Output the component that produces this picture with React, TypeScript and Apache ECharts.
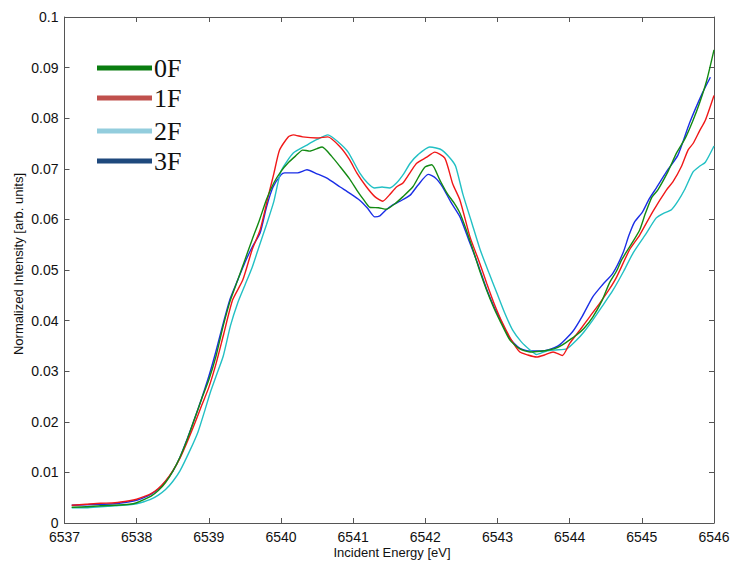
import React, { useEffect, useRef } from "react";
import * as echarts from "echarts";

const seriesNames = ["0F", "1F", "2F", "3F"];
const lineColors = ["#138a13", "#f01818", "#22c0c4", "#1a2ee6"];
const legendColors = ["#0a7d10", "#c0504d", "#93cddd", "#1f497d"];

const xTicks = [6537, 6538, 6539, 6540, 6541, 6542, 6543, 6544, 6545, 6546];
const xTitle = "Incident Energy [eV]";
const yTitle = "Normalized Intensity [arb. units]";

const energy0F = [6537.1, 6537.3, 6537.5, 6537.7, 6537.9, 6538.0, 6538.1, 6538.2, 6538.3, 6538.4, 6538.5, 6538.6, 6538.7, 6538.8, 6538.9, 6539.0, 6539.1, 6539.2, 6539.3, 6539.4, 6539.5, 6539.6, 6539.7, 6539.8, 6539.9, 6540.0, 6540.1, 6540.2, 6540.3, 6540.4, 6540.5, 6540.57, 6540.7, 6540.82, 6540.95, 6541.05, 6541.15, 6541.23, 6541.35, 6541.46, 6541.57, 6541.69, 6541.83, 6541.93, 6542.0, 6542.09, 6542.2, 6542.3, 6542.4, 6542.48, 6542.57, 6542.66, 6542.75, 6542.85, 6542.95, 6543.03, 6543.17, 6543.31, 6543.45, 6543.55, 6543.68, 6543.8, 6543.9, 6544.0, 6544.1, 6544.2, 6544.32, 6544.45, 6544.55, 6544.65, 6544.72, 6544.85, 6544.97, 6545.05, 6545.14, 6545.22, 6545.36, 6545.48, 6545.6, 6545.71, 6545.8, 6545.9, 6546.0];
const intensity0F = [0.0031, 0.0032, 0.0034, 0.0035, 0.0037, 0.004, 0.0046, 0.0053, 0.0064, 0.008, 0.0102, 0.013, 0.0165, 0.0205, 0.0245, 0.0283, 0.033, 0.039, 0.0441, 0.048, 0.052, 0.056, 0.0598, 0.064, 0.0672, 0.0695, 0.0712, 0.0725, 0.0737, 0.0735, 0.074, 0.0743, 0.0725, 0.0704, 0.068, 0.0658, 0.0638, 0.0624, 0.0623, 0.062, 0.063, 0.0645, 0.0665, 0.069, 0.0704, 0.0708, 0.0678, 0.0652, 0.0632, 0.0612, 0.0578, 0.054, 0.05, 0.046, 0.0425, 0.0401, 0.0362, 0.0344, 0.0338, 0.0339, 0.0341, 0.0345, 0.0352, 0.0362, 0.0372, 0.0385, 0.0407, 0.044, 0.0474, 0.0498, 0.052, 0.055, 0.0579, 0.0612, 0.0644, 0.0658, 0.0694, 0.0731, 0.076, 0.0796, 0.083, 0.0875, 0.0935];

const energy1F = [6537.1, 6537.3, 6537.5, 6537.7, 6537.9, 6538.0, 6538.1, 6538.2, 6538.3, 6538.4, 6538.5, 6538.6, 6538.7, 6538.8, 6538.9, 6539.0, 6539.1, 6539.2, 6539.33, 6539.47, 6539.6, 6539.71, 6539.82, 6539.9, 6539.98, 6540.1, 6540.17, 6540.3, 6540.5, 6540.65, 6540.82, 6540.95, 6541.05, 6541.18, 6541.3, 6541.41, 6541.5, 6541.6, 6541.69, 6541.8, 6541.88, 6542.02, 6542.13, 6542.27, 6542.38, 6542.48, 6542.62, 6542.75, 6542.85, 6542.95, 6543.07, 6543.2, 6543.31, 6543.42, 6543.54, 6543.65, 6543.77, 6543.9, 6544.0, 6544.14, 6544.28, 6544.42, 6544.55, 6544.65, 6544.83, 6544.97, 6545.15, 6545.34, 6545.43, 6545.55, 6545.64, 6545.71, 6545.8, 6545.88, 6546.0];
const intensity1F = [0.0035, 0.0037, 0.0039, 0.004, 0.0044, 0.0047, 0.0052, 0.0058, 0.0068, 0.0083, 0.0103, 0.0128, 0.016, 0.0195, 0.0232, 0.0268, 0.0315, 0.037, 0.0441, 0.048, 0.054, 0.0579, 0.0644, 0.069, 0.0737, 0.0763, 0.0767, 0.0763, 0.0761, 0.0763, 0.0743, 0.0718, 0.0692, 0.0665, 0.0645, 0.0636, 0.0648, 0.0664, 0.0672, 0.0695, 0.0711, 0.0723, 0.0733, 0.0721, 0.067, 0.0638, 0.0565, 0.0515, 0.0474, 0.0435, 0.0395, 0.036, 0.0338, 0.0332, 0.0328, 0.0332, 0.0338, 0.0331, 0.0355, 0.0381, 0.0408, 0.0435, 0.0462, 0.0486, 0.054, 0.0569, 0.0615, 0.0658, 0.0674, 0.0705, 0.0737, 0.075, 0.0775, 0.0796, 0.0845];

const energy2F = [6537.1, 6537.3, 6537.5, 6537.7, 6537.9, 6538.0, 6538.1, 6538.2, 6538.3, 6538.4, 6538.5, 6538.6, 6538.74, 6538.85, 6538.95, 6539.02, 6539.1, 6539.2, 6539.3, 6539.4, 6539.5, 6539.6, 6539.7, 6539.8, 6539.9, 6540.0, 6540.17, 6540.36, 6540.5, 6540.65, 6540.8, 6540.93, 6541.09, 6541.2, 6541.3, 6541.4, 6541.5, 6541.6, 6541.7, 6541.79, 6541.9, 6542.06, 6542.15, 6542.23, 6542.35, 6542.42, 6542.52, 6542.64, 6542.76, 6542.88, 6542.99, 6543.1, 6543.21, 6543.33, 6543.45, 6543.54, 6543.68, 6543.8, 6543.96, 6544.1, 6544.2, 6544.32, 6544.45, 6544.6, 6544.75, 6544.88, 6545.05, 6545.2, 6545.3, 6545.41, 6545.5, 6545.59, 6545.71, 6545.8, 6545.88, 6546.0];
const intensity2F = [0.003, 0.003, 0.0032, 0.0034, 0.0036, 0.0038, 0.0042, 0.0047, 0.0055, 0.0066, 0.0082, 0.0103, 0.0144, 0.018, 0.0225, 0.0258, 0.029, 0.033, 0.039, 0.0435, 0.047, 0.0505, 0.0548, 0.059, 0.0635, 0.0695, 0.0731, 0.0747, 0.0758, 0.0767, 0.0752, 0.0733, 0.0692, 0.0672, 0.0662, 0.0664, 0.0662, 0.0672, 0.069, 0.0711, 0.0728, 0.0743, 0.0741, 0.0737, 0.072, 0.0705, 0.065, 0.0595, 0.054, 0.0495, 0.0455, 0.0415, 0.0381, 0.0358, 0.0342, 0.0333, 0.034, 0.0342, 0.0344, 0.0362, 0.0378, 0.0401, 0.0428, 0.046, 0.0498, 0.0534, 0.057, 0.0603, 0.0612, 0.0619, 0.0636, 0.0658, 0.0694, 0.0705, 0.0713, 0.0745];

const energy3F = [6537.1, 6537.3, 6537.5, 6537.7, 6537.9, 6538.0, 6538.1, 6538.2, 6538.3, 6538.4, 6538.5, 6538.6, 6538.7, 6538.8, 6538.9, 6539.0, 6539.1, 6539.2, 6539.29, 6539.4, 6539.5, 6539.6, 6539.71, 6539.8, 6539.89, 6540.0, 6540.05, 6540.23, 6540.36, 6540.5, 6540.63, 6540.82, 6540.95, 6541.09, 6541.2, 6541.3, 6541.37, 6541.45, 6541.54, 6541.65, 6541.79, 6541.9, 6542.04, 6542.14, 6542.24, 6542.35, 6542.48, 6542.6, 6542.72, 6542.85, 6542.95, 6543.03, 6543.17, 6543.31, 6543.45, 6543.6, 6543.7, 6543.86, 6544.04, 6544.18, 6544.32, 6544.45, 6544.6, 6544.74, 6544.82, 6544.9, 6545.01, 6545.1, 6545.2, 6545.34, 6545.5, 6545.66, 6545.84, 6545.95];
const intensity3F = [0.0035, 0.0036, 0.0037, 0.0038, 0.0042, 0.0045, 0.005, 0.0057, 0.0067, 0.0082, 0.0102, 0.013, 0.0166, 0.0205, 0.0246, 0.029, 0.034, 0.0395, 0.0441, 0.048, 0.0515, 0.0545, 0.0573, 0.0625, 0.0664, 0.0688, 0.0692, 0.0692, 0.0698, 0.069, 0.0682, 0.0664, 0.0652, 0.0638, 0.0622, 0.0605, 0.0607, 0.0618, 0.0628, 0.0636, 0.0648, 0.0668, 0.0689, 0.0682, 0.0664, 0.0635, 0.0605, 0.056, 0.0515, 0.0462, 0.0428, 0.0405, 0.0365, 0.0345, 0.034, 0.034, 0.0342, 0.0352, 0.0378, 0.041, 0.0447, 0.047, 0.0494, 0.0534, 0.0568, 0.0595, 0.0615, 0.064, 0.0662, 0.0694, 0.0727, 0.079, 0.085, 0.0881];

const energies = [energy0F, energy1F, energy2F, energy3F];
const intensities = [intensity0F, intensity1F, intensity2F, intensity3F];

const legendX1 = 97;
const legendX2 = 152;
const legendY = [68, 98, 131, 161];

export default function App() {
  const ref = useRef<HTMLDivElement>(null);
  useEffect(() => {
    if (!ref.current) return;
    const chart = echarts.init(ref.current, undefined, { renderer: "svg" });
    const axisColor = "#555";
    const sansFont = "Liberation Sans, Arial, sans-serif";
    const labelStyle = { color: "#111", fontFamily: sansFont, fontSize: 14 };
    const series = seriesNames.map((name, i) => ({
      name,
      type: "line",
      data: energies[i].map((e, k) => [e, intensities[i][k]]),
      showSymbol: false,
      symbol: "none",
      smooth: 0.2,
      lineStyle: { color: lineColors[i], width: 1.4 },
      z: 10 - i,
    }));
    const graphics: any[] = [];
    seriesNames.forEach((name, i) => {
      graphics.push({
        type: "line",
        shape: { x1: legendX1, y1: legendY[i], x2: legendX2, y2: legendY[i] },
        style: { stroke: legendColors[i], lineWidth: 5 },
        z: 100,
      });
      graphics.push({
        type: "text",
        x: 154,
        y: legendY[i],
        style: {
          text: name,
          fill: "#111",
          font: "26px 'Liberation Serif', 'Times New Roman', serif",
          verticalAlign: "middle",
        },
        z: 100,
      });
    });
    graphics.push({
      type: "text",
      x: 392,
      y: 552,
      style: {
        text: xTitle,
        fill: "#111",
        font: "13px 'Liberation Sans', Arial, sans-serif",
        align: "center",
        verticalAlign: "middle",
      },
    });
    graphics.push({
      type: "text",
      x: 18,
      y: 264,
      rotation: Math.PI / 2,
      style: {
        text: yTitle,
        fill: "#111",
        font: "13px 'Liberation Sans', Arial, sans-serif",
        align: "center",
        verticalAlign: "middle",
      },
    });
    chart.setOption({
      animation: false,
      backgroundColor: "#fff",
      grid: { left: 64.5, right: 19, top: 17, bottom: 38, containLabel: false, outerBoundsMode: "none" },
      xAxis: [
        {
          type: "value",
          min: xTicks[0],
          max: xTicks[xTicks.length - 1],
          interval: 1,
          position: "bottom",
          axisLine: { show: true, lineStyle: { color: axisColor } },
          axisTick: { show: true, inside: true, length: 5, lineStyle: { color: axisColor } },
          axisLabel: { ...labelStyle, margin: 7, formatter: (v: number) => String(v) },
          splitLine: { show: false },
        },
        {
          type: "value",
          min: xTicks[0],
          max: xTicks[xTicks.length - 1],
          interval: 1,
          position: "top",
          axisLine: { show: true, onZero: false, lineStyle: { color: axisColor } },
          axisTick: { show: true, inside: true, length: 5, lineStyle: { color: axisColor } },
          axisLabel: { show: false },
          splitLine: { show: false },
        },
      ],
      yAxis: [
        {
          type: "value",
          min: 0,
          max: 0.1,
          interval: 0.01,
          position: "left",
          axisLine: { show: true, onZero: false, lineStyle: { color: axisColor } },
          axisTick: { show: true, inside: true, length: 5, lineStyle: { color: axisColor } },
          axisLabel: { ...labelStyle, margin: 6, formatter: (v: number) => String(parseFloat(v.toFixed(2))) },
          splitLine: { show: false },
        },
        {
          type: "value",
          min: 0,
          max: 0.1,
          interval: 0.01,
          position: "right",
          axisLine: { show: true, onZero: false, lineStyle: { color: axisColor } },
          axisTick: { show: true, inside: true, length: 5, lineStyle: { color: axisColor } },
          axisLabel: { show: false },
          splitLine: { show: false },
        },
      ],
      series,
      graphic: graphics,
    });
    return () => chart.dispose();
  }, []);
  return (
    <div
      ref={ref}
      style={{ position: "fixed", left: 0, top: 0, width: 733, height: 561, background: "#fff" }}
    />
  );
}
